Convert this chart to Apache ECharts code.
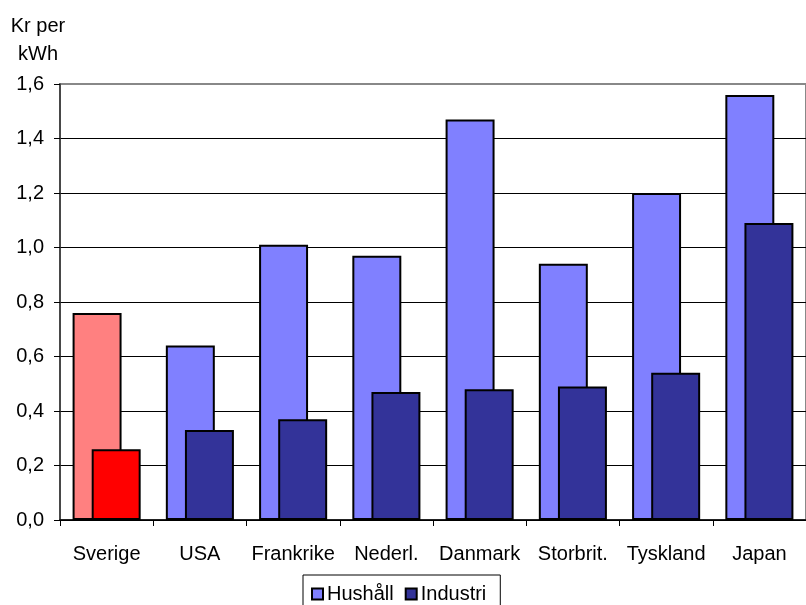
<!DOCTYPE html>
<html>
<head>
<meta charset="utf-8">
<script src="https://cdn.jsdelivr.net/npm/echarts@6/dist/echarts.min.js"></script>
<style>
  html, body { margin: 0; padding: 0; background: #fff; }
  #chart { width: 806px; height: 605px; }
</style>
</head>
<body>
<div id="chart"></div>
<script>
// Electricity prices, kronor per kWh
const countries = ['Sverige', 'USA', 'Frankrike', 'Nederl.', 'Danmark', 'Storbrit.', 'Tyskland', 'Japan'];
const household = [0.76, 0.64, 1.01, 0.97, 1.47, 0.94, 1.20, 1.56];
const industry  = [0.26, 0.33, 0.37, 0.47, 0.48, 0.49, 0.54, 1.09];
const yTicks = [0, 0.2, 0.4, 0.6, 0.8, 1.0, 1.2, 1.4, 1.6];

const FONT = '"Liberation Sans", Arial, sans-serif';
const colHouse = '#8080FF', colInd = '#333399';
const colHouseSe = '#FF8080', colIndSe = '#FF0000';

function withHighlight(values, first) {
  return values.map((v, i) => i === 0 ? { value: v, itemStyle: { color: first } } : v);
}

const chart = echarts.init(document.getElementById('chart'), null, { renderer: 'canvas' });
chart.setOption({
  animation: false,
  textStyle: { fontFamily: FONT, color: '#000' },
  title: {
    text: 'Kr per\nkWh',
    left: 33, top: 7, textAlign: 'center',
    textStyle: { fontFamily: FONT, fontSize: 20, fontWeight: 'normal', color: '#000', lineHeight: 28 }
  },
  grid: {
    left: 60, top: 84, width: 748, height: 436,
    show: true, borderColor: '#888', borderWidth: 2, backgroundColor: 'transparent'
  },
  legend: {
    left: 303, top: 575,
    padding: [7, 14, 7, 8],
    borderColor: '#000', borderWidth: 1,
    itemWidth: 11, itemHeight: 11, itemGap: 11,
    icon: 'rect',
    itemStyle: { borderColor: '#000', borderWidth: 2 },
    textStyle: { fontFamily: FONT, fontSize: 20, color: '#000', lineHeight: 24, padding: [0, 0, 0, -1] },
    data: ['Hushåll', 'Industri']
  },
  xAxis: {
    type: 'category',
    data: countries,
    axisLine: { lineStyle: { color: '#000', width: 1.5 } },
    axisTick: { show: true, length: 6, lineStyle: { color: '#000' } },
    axisLabel: { fontFamily: FONT, fontSize: 20, color: '#000', margin: 24, interval: 0 }
  },
  yAxis: {
    type: 'value',
    min: 0, max: 1.6, interval: 0.2,
    axisLine: { show: true, lineStyle: { color: '#333', width: 1.5 } },
    axisTick: { show: true, length: 6, lineStyle: { color: '#000' } },
    axisLabel: {
      fontFamily: FONT, fontSize: 20, color: '#000', margin: 16,
      formatter: v => yTicks.includes(Math.round(v * 10) / 10) ? v.toFixed(1).replace('.', ',') : ''
    },
    splitLine: {
      show: true,
      lineStyle: { color: ['#000', '#000', '#000', '#000', '#000', '#000', '#000', '#000', '#888'], width: 1 }
    }
  },
  series: [
    {
      name: 'Hushåll', type: 'bar',
      data: withHighlight(household, colHouseSe),
      itemStyle: { color: colHouse, borderColor: '#000', borderWidth: 2 },
      barCategoryGap: '27%', barGap: '-61%'
    },
    {
      name: 'Industri', type: 'bar',
      data: withHighlight(industry, colIndSe),
      itemStyle: { color: colInd, borderColor: '#000', borderWidth: 2 },
      barCategoryGap: '27%', barGap: '-61%'
    }
  ]
});
</script>
</body>
</html>
